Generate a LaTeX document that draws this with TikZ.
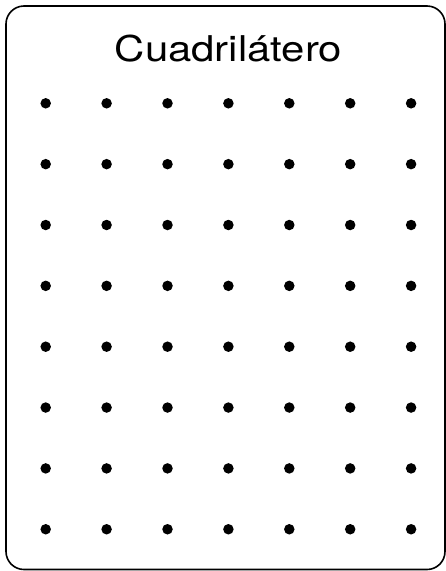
\documentclass[tikz,border=0pt]{standalone}
\usepackage{fontspec}
\setmainfont{TeX Gyre Heros}
\newfontfamily\titlefont[FakeStretch=1.18]{TeX Gyre Heros}
\usetikzlibrary{positioning}

\begin{document}
\begin{tikzpicture}[
    x=1pt, y=-1pt,
    frame/.style={draw, line width=1.6pt, rounded corners=18pt},
    dot/.style={circle, fill, inner sep=0pt, minimum size=10.5pt},
    title/.style={anchor=base, font=\titlefont\fontsize{35.5}{42}\selectfont},
]
\useasboundingbox (0,0) rectangle (446,571);
% the card
\draw[frame] (6,6) rectangle (445,569.5);
\node[title] (name) at (228.5,61) {Cuadrilátero};
% peg board: 7 columns, 8 rows
\foreach \i in {0,...,6}{
  \foreach \j in {0,...,7}{
    \node[dot] (p\i\j) at ({45.7+60.9*\i},{103.3+60.85*\j}) {};
  }
}
\end{tikzpicture}
\end{document}
